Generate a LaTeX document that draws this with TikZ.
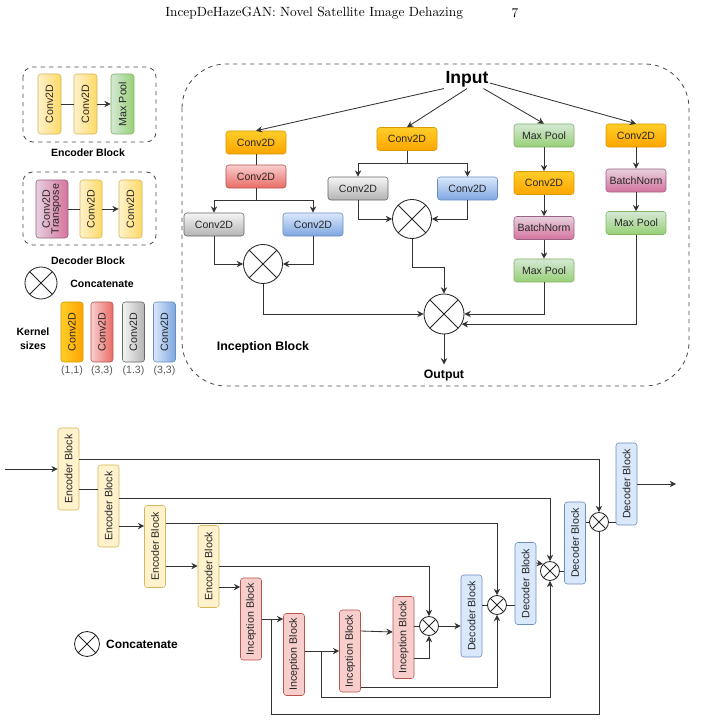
\documentclass[tikz,border=0pt]{standalone}
\usepackage{fontspec}
\newfontfamily\arial{Liberation Sans}
\usepackage{tikz}
\usetikzlibrary{arrows.meta, positioning}
\definecolor{orgA}{HTML}{FFCD28}
\definecolor{orgB}{HTML}{FFA500}
\definecolor{orgD}{HTML}{D79B00}
\definecolor{redA}{HTML}{F8CECC}
\definecolor{redB}{HTML}{EA6B66}
\definecolor{redD}{HTML}{B85450}
\definecolor{gryA}{HTML}{F5F5F5}
\definecolor{gryB}{HTML}{B3B3B3}
\definecolor{gryD}{HTML}{666666}
\definecolor{bluA}{HTML}{DAE8FC}
\definecolor{bluB}{HTML}{7EA6E0}
\definecolor{bluD}{HTML}{6C8EBF}
\definecolor{grnA}{HTML}{D5E8D4}
\definecolor{grnB}{HTML}{97D077}
\definecolor{grnD}{HTML}{82B366}
\definecolor{pnkA}{HTML}{E6D0DE}
\definecolor{pnkB}{HTML}{D5739D}
\definecolor{pnkD}{HTML}{996185}
\definecolor{yelA}{HTML}{FFF2CC}
\definecolor{yelB}{HTML}{FFD966}
\definecolor{yelD}{HTML}{D6B656}

\begin{document}
\begin{tikzpicture}[
  x=0.025cm, y=-0.025cm,
  every node/.style={font=\arial\fontsize{7.5}{9}\selectfont, text=black!85},
  conv/.style={rounded corners=2pt, minimum width=1.5cm, minimum height=0.575cm, inner sep=1pt},
  tall/.style={rounded corners=2pt, minimum width=0.575cm, minimum height=1.5cm, inner sep=0pt, font=\arial\fontsize{7.6}{8.5}\selectfont},
  block/.style={rounded corners=2pt, minimum width=0.525cm, minimum height=2.05cm, inner sep=0pt, font=\arial\fontsize{7.6}{8.5}\selectfont},
  orangefill/.style={top color=orgA, bottom color=orgB, draw=orgD, shading angle=#1}, orangefill/.default=0,
  redfill/.style={top color=redA, bottom color=redB, draw=redD, shading angle=#1}, redfill/.default=0,
  grayfill/.style={top color=gryA, bottom color=gryB, draw=gryD, shading angle=#1}, grayfill/.default=0,
  bluefill/.style={top color=bluA, bottom color=bluB, draw=bluD, shading angle=#1}, bluefill/.default=0,
  greenfill/.style={top color=grnA, bottom color=grnB, draw=grnD, shading angle=#1}, greenfill/.default=0,
  pinkfill/.style={top color=pnkA, bottom color=pnkB, draw=pnkD, shading angle=#1}, pinkfill/.default=0,
  yellowfill/.style={top color=yelA, bottom color=yelB, draw=yelD, shading angle=#1}, yellowfill/.default=0,
  encblock/.style={block, fill=yelA, draw=yelD},
  incblock/.style={block, fill=redA, draw=redD},
  decblock/.style={block, fill=bluA, draw=bluD},
  catx/.style={draw=black!85, line width=0.6pt, circle, inner sep=0pt, path picture={
      \draw[black!85, line width=0.6pt] (path picture bounding box.north west) -- (path picture bounding box.south east)
        (path picture bounding box.north east) -- (path picture bounding box.south west);}},
  title/.style={font=\arial\bfseries\fontsize{7.5}{10}\selectfont, text=black},
  arrow/.style={-{Stealth[length=4.5pt, width=4.5pt]}, line width=0.6pt, draw=black!80},
  link/.style={line width=0.6pt, draw=black!80},
  dashbox/.style={dashed, draw=black!70, line width=0.6pt, rounded corners=7pt}
]
\useasboundingbox (0,0) rectangle (704,722);

% page header
\node[anchor=west, inner sep=0pt, text=black, font=\rmfamily\fontsize{9.5}{11}\selectfont] (head) at (165,13) {IncepDeHazeGAN: Novel Satellite Image Dehazing};
\node[inner sep=0pt, text=black, font=\rmfamily\fontsize{9.5}{11}\selectfont] (pageno) at (515,13) {7};

% legend: encoder block
\draw[dashbox] (23,67) rectangle (156,142);
\node[tall, yellowfill=90] (le1) at (49.5,104) {\rotatebox{90}{Conv2D}};
\node[tall, yellowfill=90] (le2) at (85.5,104) {\rotatebox{90}{Conv2D}};
\node[tall, greenfill=90] (le3) at (122.5,104) {\rotatebox{90}{Max Pool}};
\draw[link] (le1) -- (le2);
\draw[arrow] (le2) -- (le3);
\node[title] (enclbl) at (88,153) {Encoder Block};

% legend: decoder block
\draw[dashbox] (23,172) rectangle (156,245);
\node[tall, pinkfill=90, minimum width=0.8cm, minimum height=1.45cm] (ld1) at (52,209) {\rotatebox{90}{\begin{tabular}{@{}c@{}}Conv2D\\[-2pt]Transpose\end{tabular}}};
\node[tall, yellowfill=90, minimum width=0.55cm, minimum height=1.45cm] (ld2) at (91,209) {\rotatebox{90}{Conv2D}};
\node[tall, yellowfill=90, minimum height=1.45cm] (ld3) at (130.5,209) {\rotatebox{90}{Conv2D}};
\draw[link] (ld1) -- (ld2);
\draw[arrow] (ld2) -- (ld3);
\node[title] (declbl) at (88,261) {Decoder Block};

% legend: concatenate and kernels
\node[catx, minimum size=0.8cm] (lcat) at (41,283) {};
\node[title] (lcatlbl) at (102,284) {Concatenate};
\node[title, align=center] (kern) at (33,339) {Kernel\\sizes};
\node[tall, orangefill=90, minimum width=0.55cm] (k1) at (72,332) {\rotatebox{90}{Conv2D}};
\node[tall, redfill=90, minimum width=0.55cm] (k2) at (102,332) {\rotatebox{90}{Conv2D}};
\node[tall, grayfill=90, minimum width=0.55cm] (k3) at (133.5,332) {\rotatebox{90}{Conv2D}};
\node[tall, bluefill=90, minimum width=0.55cm] (k4) at (164.5,332) {\rotatebox{90}{Conv2D}};
\node[text=black!65] (k1lbl) at (72,371) {(1,1)};
\node[text=black!65] (k2lbl) at (102,371) {(3,3)};
\node[text=black!65] (k3lbl) at (133.5,371) {(1.3)};
\node[text=black!65] (k4lbl) at (164.5,371) {(3,3)};

% inception block
\draw[dashbox, rounded corners=1.1cm] (182,64) rectangle (689,386);
\node[font=\arial\bfseries\fontsize{12.5}{14}\selectfont, text=black, inner sep=1pt] (input) at (467,79) {Input};

\node[conv, orangefill] (b1a) at (256,142.5) {Conv2D};
\node[conv, redfill] (b1b) at (256,176.5) {Conv2D};
\node[conv, grayfill] (b1c) at (214,224.5) {Conv2D};
\node[conv, bluefill] (b1d) at (313,224.5) {Conv2D};
\node[catx, minimum size=0.975cm] (catA) at (263,264) {};

\node[conv, orangefill] (b2a) at (407,139) {Conv2D};
\node[conv, grayfill] (b2c) at (358,188.5) {Conv2D};
\node[conv, bluefill] (b2d) at (467.5,188.5) {Conv2D};
\node[catx, minimum size=0.975cm] (catB) at (412,219) {};

\node[conv, greenfill] (b3a) at (544,135.5) {Max Pool};
\node[conv, orangefill] (b3b) at (544,183) {Conv2D};
\node[conv, pinkfill] (b3c) at (544,228) {BatchNorm};
\node[conv, greenfill] (b3d) at (544,270.5) {Max Pool};

\node[conv, orangefill] (b4a) at (636,135.5) {Conv2D};
\node[conv, pinkfill] (b4b) at (636,180.5) {BatchNorm};
\node[conv, greenfill] (b4c) at (636,223) {Max Pool};

\node[catx, minimum size=1cm] (catC) at (444,314) {};
\node[font=\arial\bfseries\fontsize{8.7}{10}\selectfont, text=black] (output) at (444,375) {Output};
\node[font=\arial\bfseries\fontsize{8.8}{10}\selectfont, text=black] (inclbl) at (263,347) {Inception Block};

\draw[arrow] (input.south west) -- (b1a.north);
\draw[arrow] (input.south) -- (b2a.north);
\draw[arrow] (input.-30) -- (b3a.north);
\draw[arrow] (input.-10) -- (b4a.north);

\draw[link] (b1a) -- (b1b);
\draw[arrow] (b1b.south) -- ++(0,12) -| (b1c.north);
\draw[arrow] (b1b.south) -- ++(0,12) -| (b1d.north);
\draw[arrow] (b1c.south) |- (catA.west);
\draw[arrow] (b1d.south) |- (catA.east);

\draw[arrow] (b2a.south) -- ++(0,13) -| (b2c.north);
\draw[arrow] (b2a.south) -- ++(0,13) -| (b2d.north);
\draw[arrow] (b2c.south) |- (catB.west);
\draw[arrow] (b2d.south) |- (catB.east);

\draw[arrow] (b3a) -- (b3b);
\draw[arrow] (b3b) -- (b3c);
\draw[arrow] (b3c) -- (b3d);
\draw[arrow] (b4a) -- (b4b);
\draw[arrow] (b4b) -- (b4c);

\draw[arrow] (catA.south) |- (catC.west);
\draw[arrow] (catB.south) -- ++(0,28) -| (catC.north);
\draw[arrow] (b3d.south) |- (catC.east);
\draw[arrow] (b4c.south) |- (catC.-30);
\draw[arrow] (catC.south) -- (output.north);

% generator network
\coordinate (in) at (5,469);
\coordinate (out) at (676,484);
\node[encblock] (enc1) at (68.5,469) {\rotatebox{90}{Encoder Block}};
\node[encblock] (enc2) at (108.5,506) {\rotatebox{90}{Encoder Block}};
\node[encblock] (enc3) at (155,546.5) {\rotatebox{90}{Encoder Block}};
\node[encblock] (enc4) at (208.5,566.5) {\rotatebox{90}{Encoder Block}};
\node[incblock] (inc1) at (251,619) {\rotatebox{90}{Inception Block}};
\node[incblock] (inc2) at (294,654.5) {\rotatebox{90}{Inception Block}};
\node[incblock] (inc3) at (350,651) {\rotatebox{90}{Inception Block}};
\node[incblock] (inc4) at (403.5,637.5) {\rotatebox{90}{Inception Block}};
\node[decblock] (dec1) at (471.5,616) {\rotatebox{90}{Decoder Block}};
\node[decblock] (dec2) at (525.5,583.5) {\rotatebox{90}{Decoder Block}};
\node[decblock] (dec3) at (575,543) {\rotatebox{90}{Decoder Block}};
\node[decblock] (dec4) at (626.5,484) {\rotatebox{90}{Decoder Block}};
\node[catx, minimum size=0.475cm] (c1) at (429,626) {};
\node[catx, minimum size=0.475cm] (c2) at (497,605) {};
\node[catx, minimum size=0.475cm] (c3) at (550,571) {};
\node[catx, minimum size=0.475cm] (c4) at (599,522) {};

\draw[arrow] (in) -- (enc1.west);
\draw[arrow] (enc1.east |- 0,459) -| (c4.north);
\draw[link] (enc1.east |- 0,489) -- (enc2.west |- 0,489);
\draw[arrow] (enc2.east |- 0,498) -| (c3.north);
\draw[arrow] (enc2.east |- 0,526) -- (enc3.west |- 0,526);
\draw[arrow] (enc3.east |- 0,523) -| (c2.north);
\draw[arrow] (enc3.east |- 0,566) -- (enc4.west |- 0,566);
\draw[arrow] (enc4.east) -| (c1.north);
\draw[arrow] (enc4.east |- 0,587) -- (inc1.west |- 0,587);

\draw[arrow] (inc1.east) -- (inc2.west |- inc1.east);
\draw[link] (inc1.east) -- (271,619) -- (271,714) -| (c4.south);
\draw[arrow] (inc2.east |- 0,651) -- (inc3.west |- 0,651);
\draw[arrow] (inc2.east |- 0,651) -- (321,651) -- (321,697) -| (c3.south);
\draw[arrow] (inc3.east |- 0,631) -- (inc4.west |- 0,632);
\draw[arrow] (inc3.east |- 0,687) -| (c2.south);
\draw[link] (inc4.east |- c1) -- (c1.west);
\draw[arrow] (inc4.east |- 0,658) -| (c1.south);

\draw[arrow] (c1.east) -- (dec1.west |- c1);
\draw[link] (dec1.east |- c2) -- (c2.west);
\draw[link] (c2.east) -- (dec2.west |- c2);
\draw[arrow] (dec2.east |- 0,563) -- (c3.135);
\draw[link] (c3.east) -- (dec3.west |- c3);
\draw[link] (dec3.east |- c4) -- (c4.west);
\draw[link] (c4.east) -- (dec4.west |- c4);
\draw[arrow] (dec4.east) -- (out);

% legend: concatenate
\node[catx, minimum size=0.625cm] (bcat) at (87,644) {};
\node[font=\arial\bfseries\fontsize{8.5}{10}\selectfont, text=black] (bcatlbl) at (142,644) {Concatenate};

\end{tikzpicture}
\end{document}
